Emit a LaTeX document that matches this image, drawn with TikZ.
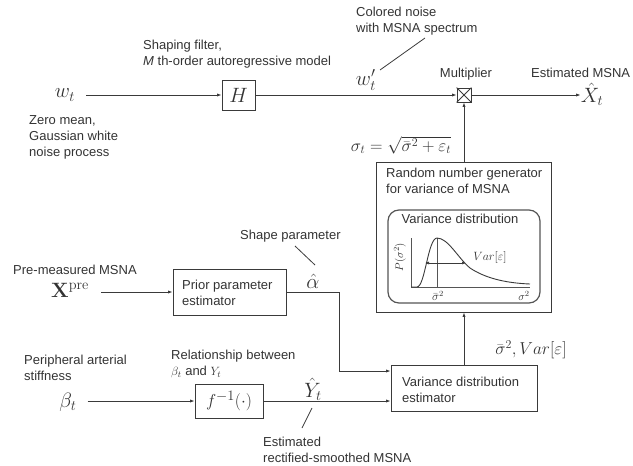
\documentclass[tikz,border=0pt]{standalone}
\usepackage[no-math]{fontspec}
\setmainfont{Liberation Sans}
\usetikzlibrary{arrows.meta,calc}
\definecolor{ink}{HTML}{333333}
\definecolor{lin}{HTML}{3A3A3A}
\definecolor{soft}{HTML}{555555}
\begin{document}
\begin{tikzpicture}[x=1pt,y=-1pt,
  txt/.style={font=\fontsize{13}{16}\selectfont, text=ink, inner sep=0pt, align=left},
  mth/.style={font=\fontsize{17}{20}\selectfont, text=ink, inner sep=0pt},
  bmth/.style={font=\fontsize{20}{23}\selectfont, text=ink, inner sep=0pt},
  smth/.style={font=\fontsize{12.5}{15}\selectfont, text=ink, inner sep=0pt},
  blk/.style={draw=lin, line width=0.9pt, inner sep=0pt},
  arr/.style={draw=lin, line width=0.8pt, -{Latex[length=4.5pt,width=3.2pt]}},
  ln/.style={draw=lin, line width=0.8pt}]
\useasboundingbox (0,0) rectangle (633,466);

% ---- top row
\node[bmth] (wt) at (65,95) {$w_t$};
\node[blk, minimum width=33pt, minimum height=30pt, bmth] (H) at (238.5,95) {$H$};
\node[blk, minimum width=14pt, minimum height=14pt] (mult) at (464,95) {};
\draw[ln] (mult.north west) -- (mult.south east) (mult.north east) -- (mult.south west);
\node[bmth] (Xhat) at (592,94) {$\hat{X}_t$};
\node[bmth] (wp) at (366,80) {$w'_t$};

\draw[arr, shorten <=11pt] (wt.east |- H.west) -- (H.west);
\draw[arr] (H.east) -- (mult.west);
\draw[arr] (mult.east) -- (mult.east -| Xhat.west);

\node[txt, anchor=north west] (zero) at (29,115) {Zero mean,\\Gaussian white\\noise process};
\node[txt, anchor=north west] (shaping) at (143,40) {Shaping filter,\\\textit{M} th-order autoregressive model};
\node[txt, anchor=north west] (colored) at (356,7) {Colored noise\\with MSNA spectrum};
\coordinate (cA) at (425,38);
\coordinate (cB) at (380,70);
\draw[ln] (cA) -- (cB);
\node[txt, anchor=north] (multlbl) at (466,68) {Multiplier};
\node[txt, anchor=north west] (estlbl) at (531,68) {Estimated MSNA};

% ---- sigma
\node[mth] (sig) at (401,145) {$\sigma_t = \sqrt{\bar{\sigma}^2 + \varepsilon_t}$};

% ---- random number generator
\node[blk, minimum width=175pt, minimum height=150pt] (rng) at (463.5,237) {};
\node[txt, anchor=north west] (rngtxt) at (386,168) {Random number generator\\for variance of MSNA};
\node[draw=soft, line width=1.2pt, rounded corners=11pt, minimum width=152pt, minimum height=93pt, inner sep=0pt] (inner) at (464,256.5) {};
\node[txt, anchor=north] (vdlbl) at (460,214) {Variance distribution};

% plot
\draw[draw=soft, line width=0.9pt] (411,238) -- (411,287) -- (530,287);
\draw[draw=soft, line width=0.9pt] (437,238) -- (437,287);
\draw[draw=lin, line width=0.9pt] (411,287) -- (417,287) .. controls (425,287) and (428,238) .. (437,238)
   .. controls (448,238) and (458,258) .. (470,268) .. controls (485,278) and (505,283) .. (530,284);
\draw[draw=lin, line width=0.7pt, {Latex[length=4pt,width=3pt]}-{Latex[length=4pt,width=3pt]}] (425,263) -- (466,263);
\node[smth] (varlbl) at (490,257) {$Var[\varepsilon]$};
\node[smth, rotate=90, font=\fontsize{11}{13}\selectfont] (plbl) at (400,257) {$P(\sigma^2)$};
\node[smth, font=\fontsize{12}{14}\selectfont] (sbar) at (438,296) {$\bar{\sigma}^2$};
\node[smth, font=\fontsize{11}{13}\selectfont] (s2) at (524,296) {$\sigma^2$};

\draw[arr] (mult |- rng.north) -- (mult.south);

% ---- variance distribution estimator
\node[blk, minimum width=146pt, minimum height=46pt] (varest) at (464,388) {};
\node[txt, anchor=north west] (vetxt) at (402,377) {Variance distribution\\estimator};
\draw[arr] (varest.north) -- (varest.north |- rng.south);
\node[mth, font=\fontsize{18}{21}\selectfont] (sbv) at (531,350) {$\bar{\sigma}^2, Var[\varepsilon]$};

% ---- prior parameter estimator
\node[txt, anchor=north west] (premeas) at (13,265) {Pre-measured MSNA};
\node[bmth] (Xpre) at (70,290) {$\mathbf{X}^{\mathrm{pre}}$};
\node[blk, minimum width=113pt, minimum height=46pt] (prior) at (229.5,292) {};
\node[txt, anchor=north west] (priortxt) at (182,280) {Prior parameter\\estimator};
\draw[arr, shorten <=12pt] (Xpre.east |- prior.west) -- (prior.west);
\node[bmth] (ahat) at (313,281) {$\hat{\alpha}$};
\node[txt, anchor=north west] (shape) at (240,230) {Shape parameter};
\coordinate (sA) at (295,246);
\coordinate (sB) at (315,265);
\draw[ln] (sA) -- (sB);
\coordinate (aturn) at (339,292);
\draw[arr] (prior.east) -- (aturn) |- ([yshift=17pt]varest.west);

% ---- f^{-1}
\node[txt, anchor=north west] (periph) at (24,355) {Peripheral arterial\\stiffness};
\node[bmth] (bt) at (68,402) {$\beta_t$};
\node[blk, minimum width=68pt, minimum height=34pt, mth, font=\fontsize{19}{22}\selectfont] (finv) at (229,401) {$f^{-1}(\cdot)$};
\draw[arr, shorten <=11pt] (bt.east |- finv.west) -- (finv.west);
\node[txt, anchor=north west] (relat) at (171,350) {Relationship between\\$\beta_t$ and $Y_t$};
\draw[arr] (finv.east) -- (finv.east -| varest.west);
\node[bmth] (Yhat) at (313,389) {$\hat{Y}_t$};
\coordinate (yA) at (312,408);
\coordinate (yB) at (302,428);
\draw[ln] (yA) -- (yB);
\node[txt, anchor=north west] (estrect) at (263,437) {Estimated\\rectified-smoothed MSNA};
\end{tikzpicture}
\end{document}
